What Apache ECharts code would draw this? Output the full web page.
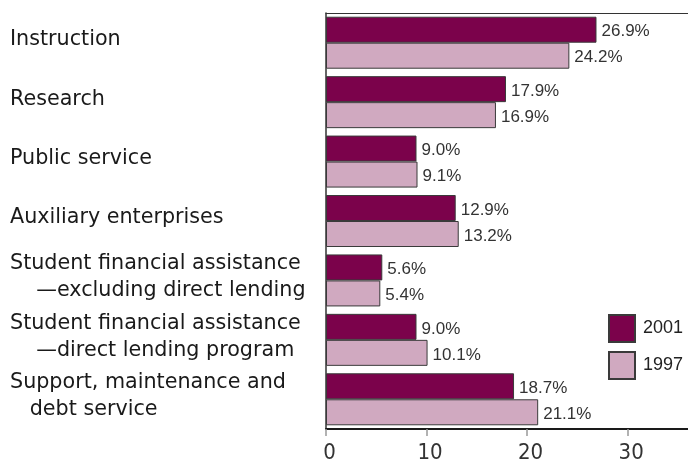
<!DOCTYPE html>
<html>
<head>
<meta charset="utf-8">
<script src="https://cdn.jsdelivr.net/npm/echarts@6/dist/echarts.min.js"></script>
<style>
  html, body { margin: 0; padding: 0; background: #fff; }
  #chart { width: 688px; height: 459px; }
</style>
</head>
<body>
<div id="chart"></div>
<script>
// Spending categories, top to bottom
const categories = [
  'Instruction',
  'Research',
  'Public service',
  'Auxiliary enterprises',
  'Student financial assistance\n    \u2014excluding direct lending',
  'Student financial assistance\n    \u2014direct lending program',
  'Support, maintenance and\n   debt service'
];
// Share of expenditures (percent)
const share2001 = [26.9, 17.9, 9.0, 12.9, 5.6, 9.0, 18.7];
const share1997 = [24.2, 16.9, 9.1, 13.2, 5.4, 10.1, 21.1];
const seriesNames = ['2001', '1997'];
const xTicks = [0, 10, 20, 30];

const colors = ['#7b024b', '#d0a9c0'];

const chart = echarts.init(document.getElementById('chart'), null, { renderer: 'canvas' });

const valueLabel = {
  show: true,
  position: 'right',
  distance: 5,
  offset: [0, 2],
  color: '#333',
  fontFamily: 'Liberation Sans',
  fontSize: 17,
  formatter: p => p.value.toFixed(1) + '%'
};

function barSeries(name, data, color) {
  return {
    name: name,
    type: 'bar',
    data: data,
    barWidth: 26,
    barGap: '0%',
    itemStyle: { color: color, borderColor: '#3a3a3a', borderWidth: 1 },
    label: valueLabel,
    emphasis: { disabled: true }
  };
}

const hiddenValueAxis = {
  type: 'value', min: 0, max: 36, show: false
};

chart.setOption({
  animation: false,
  backgroundColor: '#fff',
  grid: [
    // plotting area
    { left: 326, right: 0, top: 13, bottom: 30, containLabel: false, outerBoundsMode: 'none' },
    // category captions, set slightly higher than the bar groups
    { left: 326, right: 0, top: 10, bottom: 33, containLabel: false, outerBoundsMode: 'none' }
  ],
  xAxis: [
    {
      type: 'value',
      gridIndex: 0,
      position: 'bottom',
      min: 0,
      max: 36,
      interval: 10,
      splitLine: { show: false },
      axisLine: { show: true, lineStyle: { color: '#1a1a1a', width: 2 } },
      axisTick: { show: true, length: 7, lineStyle: { color: '#999', width: 1.5 },
        customValues: xTicks },
      axisLabel: {
        show: true,
        margin: 13,
        color: '#333',
        fontFamily: 'DejaVu Sans Condensed',
        fontSize: 22,
        padding: [0, 0, 0, 7],
        customValues: xTicks
      }
    },
    {
      type: 'value',
      gridIndex: 0,
      position: 'top',
      min: 0,
      max: 36,
      interval: 10,
      splitLine: { show: false },
      axisLine: { show: true, lineStyle: { color: '#333', width: 1 } },
      axisTick: { show: false },
      axisLabel: { show: false }
    },
    Object.assign({ gridIndex: 1 }, hiddenValueAxis)
  ],
  yAxis: [
    {
      type: 'category',
      gridIndex: 0,
      data: categories,
      inverse: true,
      axisLine: { show: true, lineStyle: { color: '#333', width: 1.5 } },
      axisTick: { show: false },
      axisLabel: { show: false }
    },
    {
      type: 'category',
      gridIndex: 1,
      data: categories,
      inverse: true,
      axisLine: { show: false },
      axisTick: { show: false },
      axisLabel: {
        interval: 0,
        align: 'left',
        margin: 316,
        color: '#1a1a1a',
        fontFamily: 'DejaVu Sans',
        fontSize: 20.7,
        lineHeight: 27
      }
    }
  ],
  legend: {
    orient: 'vertical',
    left: 608,
    top: 314,
    padding: 0,
    itemWidth: 26,
    itemHeight: 27,
    itemGap: 8,
    icon: 'rect',
    selectedMode: false,
    textStyle: {
      color: '#222',
      fontFamily: 'Liberation Sans',
      fontSize: 18,
      padding: [0, 0, 0, 3]
    },
    data: seriesNames
  },
  series: [
    barSeries(seriesNames[0], share2001, colors[0]),
    barSeries(seriesNames[1], share1997, colors[1])
  ]
});
</script>
</body>
</html>
